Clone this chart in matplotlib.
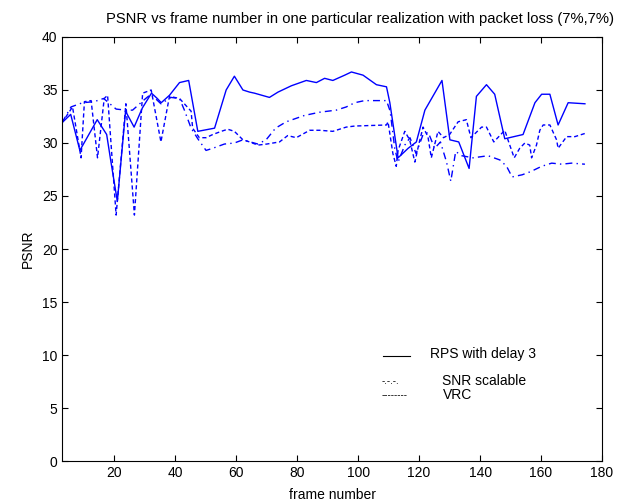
import matplotlib
matplotlib.use("Agg")
import matplotlib.pyplot as plt
from matplotlib.lines import Line2D

plt.rcParams['font.family'] = ['Liberation Sans', 'DejaVu Sans']

# RPS with delay 3 (solid)
rps_frame = [2.8, 5.7, 8.7, 14.4, 17.5, 18.8, 21.0, 23.7, 26.5, 29.2, 32.2, 34.1, 35.4, 38.1,
             41.4, 44.4, 47.4, 52.9, 56.7, 59.4, 62.2, 64.4, 66.0, 70.9, 73.7, 78.1, 83.0, 86.3,
             89.0, 91.7, 95.6, 97.8, 101.6, 106.0, 109.3, 110.4, 113.1, 116.4, 119.1, 121.9,
             125.1, 127.5, 130.1, 133.0, 136.4, 138.8, 142.1, 144.8, 148.1, 154.1, 158.0, 160.2,
             162.9, 165.6, 168.9, 174.4]
rps_psnr = [31.9, 32.7, 29.3, 32.2, 30.8, 28.4, 24.5, 33.0, 31.5, 33.3, 34.7, 34.2, 33.8, 34.5,
            35.7, 35.9, 31.1, 31.4, 35.0, 36.3, 35.0, 34.8, 34.7, 34.3, 34.8, 35.4, 35.9, 35.7,
            36.1, 35.9, 36.4, 36.7, 36.4, 35.5, 35.3, 33.8, 28.6, 29.5, 30.1, 33.1,
            34.7, 35.9, 30.3, 30.1, 27.6, 34.4, 35.5, 34.6, 30.4, 30.8, 33.8, 34.6,
            34.6, 31.7, 33.8, 33.7]

# SNR scalable (dash-dot)
snr_frame = [2.8, 5.8, 9.6, 13.4, 16.5, 20.6, 23.8, 26.0, 29.9, 32.0, 35.3, 38.6, 41.4, 43.0,
             45.2, 47.4, 50.1, 52.3, 56.1, 59.4, 62.2, 67.1, 69.8, 72.9, 76.4, 82.4, 87.3, 92.8,
             96.1, 98.9, 102.1, 109.3, 110.5, 112.0, 113.1, 115.3, 117.0, 119.0, 121.3, 123.0,
             125.1, 127.0, 129.0, 130.4, 132.0, 134.0, 137.7, 142.6, 146.5, 148.7, 150.5, 153.8,
             156.6, 160.2, 163.5, 166.8, 170.0, 174.4]
snr_psnr = [31.9, 33.4, 33.8, 33.9, 34.2, 33.2, 33.1, 33.1, 34.1, 34.6, 33.7, 34.3, 34.2, 33.1,
            31.4, 30.4, 29.3, 29.5, 29.9, 30.0, 30.3, 29.9, 30.3, 31.4, 32.0, 32.6, 32.9, 33.1,
            33.4, 33.8, 34.0, 34.0, 33.0, 29.5, 28.2, 29.8, 30.5, 29.0, 30.8, 31.0,
            29.5, 30.1, 28.2, 26.4, 29.2, 28.8, 28.6, 28.8, 28.4, 27.8, 26.8, 27.0,
            27.3, 27.8, 28.1, 28.0, 28.1, 28.0]

# VRC (dashed)
vrc_frame = [2.8, 6.3, 9.1, 10.2, 12.4, 14.5, 16.7, 17.8, 20.6, 23.8, 26.6, 29.3, 32.1, 35.3,
             38.1, 41.4, 45.2, 45.7, 47.9, 50.1, 52.3, 55.1, 57.2, 59.4, 62.2, 64.4, 67.1, 70.0,
             74.2, 76.9, 79.7, 84.1, 87.4, 91.7, 96.1, 98.9, 109.3, 109.8, 111.4, 112.5, 113.1,
             115.3, 116.9, 118.6, 120.0, 121.3, 122.9, 124.0, 126.2, 128.0, 130.0, 132.8, 135.5,
             137.0, 140.5, 142.1, 144.5, 148.1, 149.5, 151.2, 153.0, 154.7, 156.3, 156.9, 158.5,
             159.6, 160.7, 162.9, 165.1, 165.6, 168.4, 171.1, 174.4]
vrc_psnr = [31.9, 33.4, 28.6, 33.9, 34.0, 28.6, 34.2, 34.5, 23.2, 33.7, 23.2, 34.7, 35.0, 30.1,
            34.4, 34.2, 33.0, 31.4, 30.5, 30.5, 30.8, 31.1, 31.3, 31.1, 30.3, 30.1, 29.8, 29.9,
            30.1, 30.7, 30.5, 31.2, 31.2, 31.1, 31.5, 31.6, 31.7, 32.0, 29.0, 27.8, 29.3,
            31.1, 30.3, 28.2, 30.0, 31.5, 30.6, 28.6, 31.1, 30.5, 30.8, 32.0, 32.2,
            30.5, 31.5, 31.5, 30.1, 31.2, 30.0, 28.6, 29.5, 30.0, 29.8, 28.6, 29.8,
            31.2, 31.7, 31.7, 30.3, 29.5, 30.6, 30.6, 30.9]

xticks = [20, 40, 60, 80, 100, 120, 140, 160, 180]
yticks = [0, 5, 10, 15, 20, 25, 30, 35, 40]

fig = plt.figure(figsize=(6.21, 5.04), dpi=100)
ax = fig.add_axes([0.1006, 0.0853, 0.8688, 0.8413])

blue = '#0000ff'
ax.plot(rps_frame, rps_psnr, color=blue, lw=1.0, ls='-')
ax.plot(snr_frame, snr_psnr, color=blue, lw=1.0, ls=(0, (5, 3, 1, 3)))
ax.plot(vrc_frame, vrc_psnr, color=blue, lw=1.0, ls=(0, (3, 2)))

ax.set_xlim(3, 180)
ax.set_ylim(0, 40)
ax.set_xticks(xticks)
ax.set_yticks(yticks)
ax.tick_params(direction='in', top=True, right=True, length=4, labelsize=10, width=0.8)
for s in ax.spines.values():
    s.set_linewidth(0.8)

ax.set_xlabel('frame number', fontsize=10, labelpad=6)
ax.set_ylabel('PSNR', fontsize=10, labelpad=5)
fig.text(0.58, 0.962, 'PSNR vs frame number in one particular realization with packet loss (7%,7%)',
         ha='center', va='center', fontsize=10.6)

# legend drawn MATLAB-style, text samples
fig.add_artist(Line2D([383 / 621, 410 / 621], [1 - 356 / 504, 1 - 356 / 504], color='black', lw=0.8))
fig.text(430 / 621, 1 - 354 / 504, 'RPS with delay 3', ha='left', va='center', fontsize=10)
fig.text(382 / 621, 1 - 381 / 504, '-.-.-.', ha='left', va='center', fontsize=7)
fig.text(442 / 621, 1 - 381 / 504, 'SNR scalable', ha='left', va='center', fontsize=10)
fig.text(382 / 621, 1 - 395 / 504, '--------', ha='left', va='center', fontsize=7)
fig.text(443 / 621, 1 - 395 / 504, 'VRC', ha='left', va='center', fontsize=10)

fig.savefig('out.png', dpi=100)
